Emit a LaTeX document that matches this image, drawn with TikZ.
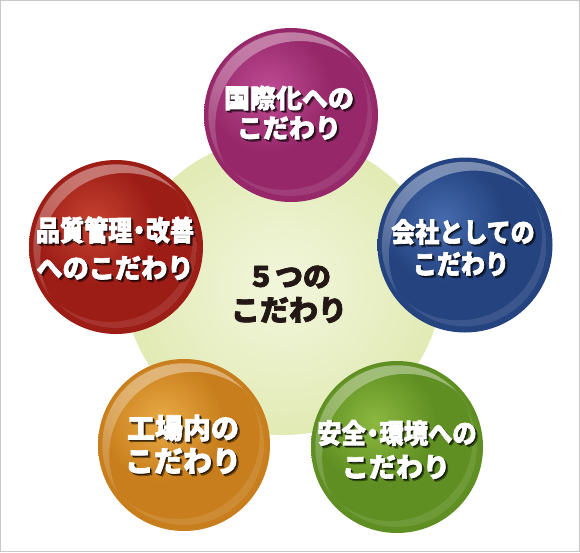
\documentclass[tikz,border=0pt]{standalone}
\usepackage{fontspec}
\usepackage{graphicx}
\newfontfamily\cjk{Noto Sans CJK JP}[BoldFeatures={FakeBold=2.5}]
\usetikzlibrary{fadings}

\newcommand\defball[5]{%
  \definecolor{#1Body}{HTML}{#2}%
  \definecolor{#1Light}{HTML}{#3}%
  \definecolor{#1Dark}{HTML}{#4}%
  \definecolor{#1Rim}{HTML}{#5}%
  \pgfdeclareradialshading{ball#1}{\pgfpointorigin}{color(0bp)=(#1Body); color(34bp)=(#1Body); color(44bp)=(#1Dark); color(50bp)=(#1Rim); color(70bp)=(#1Rim)}}
\defball{P}{962869}{C4509A}{6E1448}{4A0830}
\defball{B}{24437F}{4A70B4}{172E60}{0B1A40}
\defball{G}{5F8F22}{92BE44}{3E6614}{24420A}
\defball{O}{C87E1C}{EEB04A}{9A5810}{6A3A06}
\defball{R}{9C1C16}{CC4834}{721010}{4C0606}
\definecolor{CIn}{HTML}{F2F6DC}
\definecolor{CMid}{HTML}{E6EEC0}
\definecolor{COut}{HTML}{D0DE88}
\definecolor{TxtDark}{HTML}{231815}
\pgfdeclareradialshading{cent}{\pgfpointorigin}{color(0bp)=(CIn); color(18bp)=(CMid); color(50bp)=(COut); color(70bp)=(COut)}

\tikzfading[name=glowfade, inner color=transparent!0, outer color=transparent!100]
\tikzfading[name=hlfade, top color=transparent!0, bottom color=transparent!100]

\tikzset{
  frameline/.style={draw=black!22, line width=1pt},
  whitetxt/.style={inner sep=0pt, text=white},
  shadowtxt/.style={inner sep=0pt, text=black},
  centertxt/.style={inner sep=0pt, text=TxtDark},
}

\newcommand\nd{\hspace{-0.22em}・\hspace{-0.22em}}

% #1 tag, #2 x, #3 y, #4 r
\newcommand\drawball[4]{%
  \coordinate (c#1) at (#2,#3);
  \shade[shading=ball#1] (c#1) circle (#4);
  \begin{scope}
    \clip (c#1) circle ({0.97*#4});
    \fill[#1Light, opacity=0.9, path fading=glowfade] ({#2-0.26*#4},{#3-0.28*#4}) circle ({0.72*#4});
  \end{scope}
  \begin{scope}
    \clip (c#1) circle ({0.95*#4});
    \fill[white, opacity=0.4, path fading=hlfade, even odd rule] (c#1) circle ({0.95*#4}) ({#2+0.10*#4},{#3+0.12*#4}) circle ({0.97*#4});
  \end{scope}
  \begin{scope}
    \clip (c#1) circle ({0.93*#4});
    \fill[white, opacity=0.10, even odd rule] (c#1) circle ({0.93*#4}) ({#2-0.07*#4},{#3-0.09*#4}) circle ({0.95*#4});
  \end{scope}
}

% #1 name, #2 x, #3 y, #4 size, #5 xscale, #6 text
\newcommand\wline[6]{%
  \node[shadowtxt, opacity=0.35, xshift=2.4pt, yshift=-2.4pt, font=\cjk\bfseries\fontsize{#4}{#4}\selectfont] (#1sb) at (#2,#3) {\scalebox{#5}[1]{#6}};
  \node[shadowtxt, opacity=0.55, xshift=1.3pt, yshift=-1.3pt, font=\cjk\bfseries\fontsize{#4}{#4}\selectfont] (#1sa) at (#2,#3) {\scalebox{#5}[1]{#6}};
  \node[whitetxt, font=\cjk\bfseries\fontsize{#4}{#4}\selectfont] (#1) at (#2,#3) {\scalebox{#5}[1]{#6}};
}

\begin{document}
\begin{tikzpicture}[x=1pt, y=-1pt]
  \useasboundingbox (0,0) rectangle (580,552);
  \fill[white] (0,0) rectangle (580,552);
  \draw[frameline] (0.5,0.5) rectangle (579.5,551.5);

  % central disc
  \shade[shading=cent] (283,286) ellipse (158 and 149);

  % spheres
  \drawball{P}{291}{115}{87}
  \drawball{B}{465}{245}{87.5}
  \drawball{G}{397}{447}{86}
  \drawball{O}{184}{445}{86}
  \drawball{R}{116}{247}{87}

  % centre text
  \node[centertxt, font=\cjk\bfseries\fontsize{28}{28}\selectfont] (ct1) at (289,277) {５つの};
  \node[centertxt, font=\cjk\bfseries\fontsize{29}{29}\selectfont] (ct2) at (289,310) {こだわり};

  % sphere texts
  \wline{p1}{289}{98}{26}{1}{国際化への}
  \wline{p2}{289}{128}{26}{1}{こだわり}

  \wline{b1}{463}{232}{27}{0.89}{会社としての}
  \wline{b2}{461}{264}{27}{0.89}{こだわり}

  \wline{g1}{397}{433}{27}{0.9}{安全\nd 環境への}
  \wline{g2}{396}{467}{27}{1}{こだわり}

  \wline{o1}{183}{428}{28}{1}{工場内の}
  \wline{o2}{183}{461}{29}{1}{こだわり}

  \wline{r1}{115}{230}{28}{0.86}{品質管理\nd 改善}
  \wline{r2}{115}{268}{27}{0.97}{へのこだわり}
\end{tikzpicture}
\end{document}
